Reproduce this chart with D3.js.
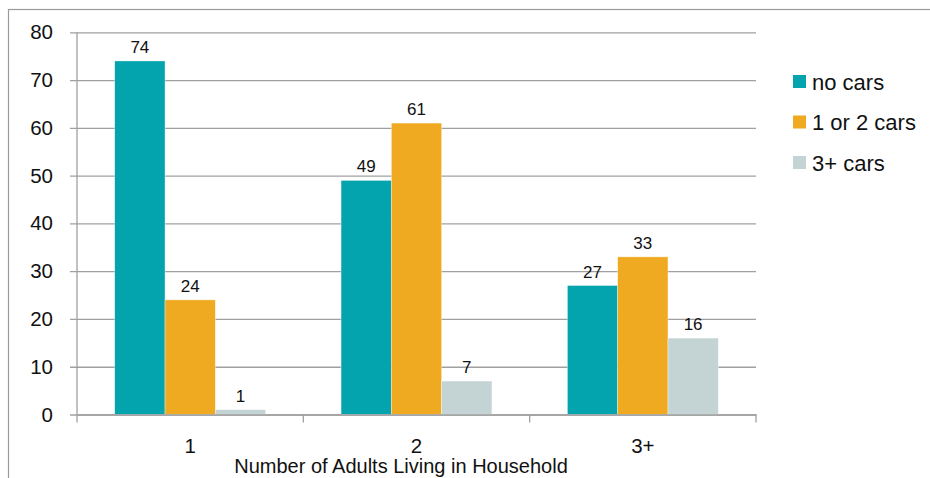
<!DOCTYPE html>
<html>
<head>
<meta charset="utf-8">
<script src="https://cdn.jsdelivr.net/npm/d3@7"></script>
<style>
  html, body { margin: 0; padding: 0; background: #fff; }
  svg { display: block; font-family: "Liberation Sans", Arial, sans-serif; }
</style>
</head>
<body>
<svg id="chart" width="930" height="478"></svg>
<script>
// Household size categories and car-ownership series
const categories = ["1", "2", "3+"];
const seriesNames = ["no cars", "1 or 2 cars", "3+ cars"];
const noCars = [74, 49, 27];
const oneOrTwoCars = [24, 61, 33];
const threePlusCars = [1, 7, 16];
const yTicks = [0, 10, 20, 30, 40, 50, 60, 70, 80];
const colors = ["#03A4AE", "#EFAA22", "#C4D4D4"];
const xTitle = "Number of Adults Living in Household";

const seriesValues = [noCars, oneOrTwoCars, threePlusCars];
const rows = categories.map((c, i) => ({
  cat: c,
  vals: seriesNames.map((s, j) => ({ key: s, idx: j, value: seriesValues[j][i] }))
}));

const svg = d3.select("#chart");

// outer frame (right and bottom edges lie outside the view)
svg.append("rect")
  .attr("x", 8.5).attr("y", 9.5)
  .attr("width", 1000).attr("height", 600)
  .attr("fill", "none").attr("stroke", "#9a9a9a").attr("stroke-width", 1.2);

const plotLeft = 77, plotRight = 756, plotTop = 32.3, plotBottom = 414.5;

const y = d3.scaleLinear().domain([0, 80]).range([plotBottom, plotTop]);
const x0 = d3.scaleBand().domain(categories).range([plotLeft, plotRight]).padding(0);
const x1 = d3.scaleBand().domain(seriesNames).range([0, x0.bandwidth()])
  .paddingInner(0).paddingOuter(0.75);
const color = d3.scaleOrdinal().domain(seriesNames).range(colors);

// horizontal gridlines with short outward ticks
const yAxis = d3.axisLeft(y).tickValues(yTicks)
  .tickSize(-(plotRight - plotLeft)).tickSizeOuter(0).tickPadding(24);
const gy = svg.append("g").attr("transform", `translate(${plotLeft},0)`).call(yAxis);
gy.select(".domain").remove();
gy.selectAll(".tick line")
  .attr("x1", -7)
  .attr("stroke", "#a0a0a0").attr("stroke-width", 1.3);
gy.selectAll(".tick text")
  .attr("font-size", 20.5).attr("fill", "#111")
  .attr("font-family", "Liberation Sans, Arial, sans-serif");

// left axis line
svg.append("line")
  .attr("x1", plotLeft).attr("x2", plotLeft).attr("y1", plotTop).attr("y2", plotBottom)
  .attr("stroke", "#a0a0a0").attr("stroke-width", 1.3);

// bars
const groups = svg.append("g").selectAll("g").data(rows).join("g")
  .attr("transform", d => `translate(${x0(d.cat)},0)`);

groups.selectAll("rect").data(d => d.vals).join("rect")
  .attr("x", d => x1(d.key))
  .attr("y", d => y(d.value))
  .attr("width", x1.bandwidth())
  .attr("height", d => y(0) - y(d.value))
  .attr("fill", d => color(d.key))
  .attr("stroke", "#fff").attr("stroke-width", 0.6).attr("stroke-opacity", 0.6);

groups.selectAll("text").data(d => d.vals).join("text")
  .attr("x", d => x1(d.key) + x1.bandwidth() / 2)
  .attr("y", d => y(d.value) - 8)
  .attr("text-anchor", "middle")
  .attr("font-size", 17).attr("fill", "#111")
  .text(d => d.value);

// category axis
const xAxis = d3.axisBottom(x0).tickSize(0).tickPadding(24);
const gx = svg.append("g").attr("transform", `translate(0,${plotBottom})`).call(xAxis);
gx.select(".domain").attr("stroke", "#a0a0a0").attr("stroke-width", 1.3);
gx.selectAll(".tick text")
  .attr("font-size", 20.5).attr("fill", "#111")
  .attr("font-family", "Liberation Sans, Arial, sans-serif");

// boundary ticks between categories
const bounds = categories.map(c => x0(c)).concat([plotRight]);
svg.append("g").selectAll("line").data(bounds).join("line")
  .attr("x1", d => d).attr("x2", d => d)
  .attr("y1", plotBottom).attr("y2", plotBottom + 8)
  .attr("stroke", "#a0a0a0").attr("stroke-width", 1.3);

// axis title
svg.append("text")
  .attr("x", 401).attr("y", 473)
  .attr("text-anchor", "middle")
  .attr("font-size", 20).attr("fill", "#111")
  .text(xTitle);

// legend
const legend = svg.append("g").selectAll("g").data(seriesNames).join("g")
  .attr("transform", (d, i) => `translate(793,${82 + i * 40.5})`);
legend.append("rect")
  .attr("x", 0).attr("y", -7).attr("width", 13).attr("height", 13)
  .attr("fill", d => color(d));
legend.append("text")
  .attr("x", 19).attr("y", 7.5)
  .attr("font-size", 22).attr("fill", "#111")
  .text(d => d);
</script>
</body>
</html>
